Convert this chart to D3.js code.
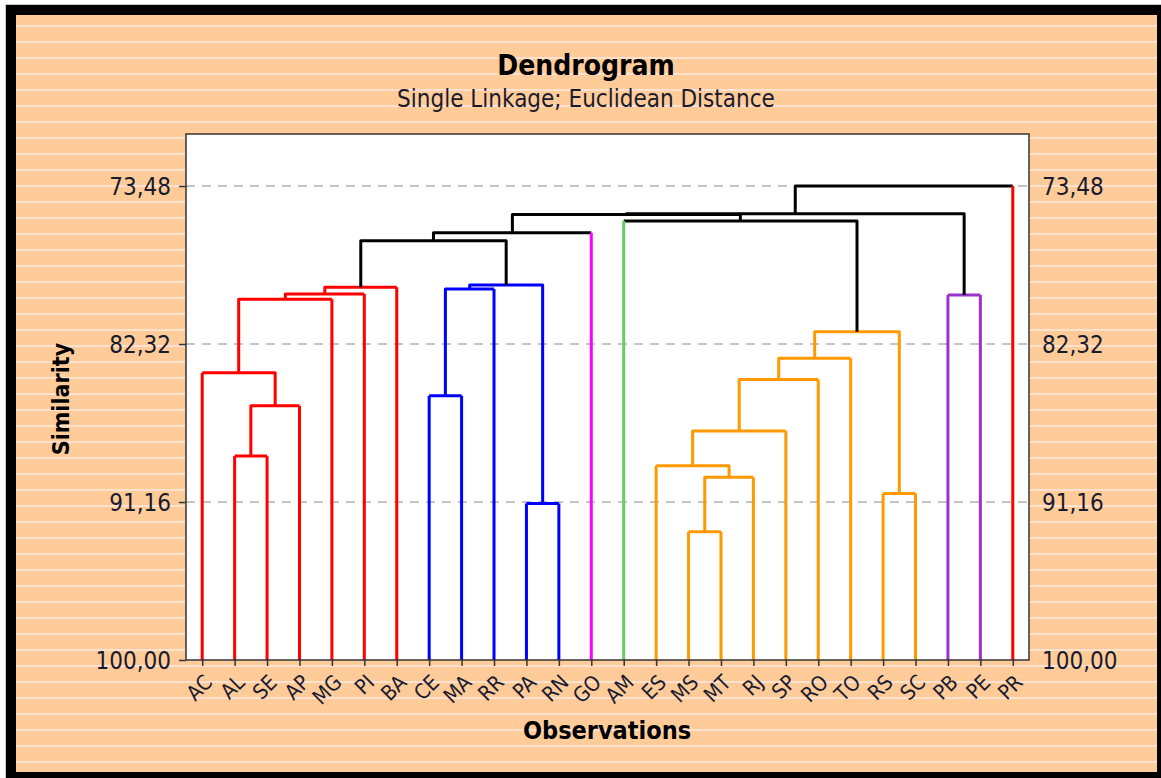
<!DOCTYPE html>
<html><head><meta charset="utf-8">
<script src="https://cdn.jsdelivr.net/npm/d3@7"></script>
<style>
html,body{margin:0;padding:0;background:#fff;}
svg{display:block;}
text{font-family:"DejaVu Sans Condensed","DejaVu Sans",sans-serif;font-stretch:condensed;}
</style></head>
<body>
<svg id="chart" width="1161" height="778"></svg>
<script>
// ---- data ----
const labels = ["AC","AL","SE","AP","MG","PI","BA","CE","MA","RR","PA","RN","GO","AM","ES","MS","MT","RJ","SP","RO","TO","RS","SC","PB","PE","PR"];
const clusterOf = [0,0,0,0,0,0,0,1,1,1,1,1,2,3,4,4,4,4,4,4,4,4,4,5,5,6];
const clusterColors = ["#ff0000","#0000ff","#ff00ff","#66cc66","#ff9900","#9933cc","#ff0000"];
// linkage: indices < 26 are leaves, >= 26 are earlier merges
const mergeA = [15,10,21,26,14,1,30,31,7,32,0,35,37,36,23,39,34,41,42,43,45,13,46,48,49];
const mergeB = [16,11,22,17,29,2,18,3,8,19,33,20,28,4,24,5,9,6,27,44,12,38,47,40,25];
const mergeSim = [92.82,91.24,90.68,89.78,89.13,88.59,87.19,85.77,85.21,84.30,83.93,83.12,81.63,79.82,79.58,79.52,79.24,79.15,79.02,76.54,76.09,75.44,75.08,75.03,73.48];
const yTicks = [73.48,82.32,91.16,100];
const yTickLabels = ["73,48","82,32","91,16","100,00"];

// ---- layout ----
const W = 1161, H = 778;
const plot = {l:186, t:134, r:1029, b:660};
const svg = d3.select("#chart");

// outer frame
svg.append("rect").attr("x",5.5).attr("y",4.5).attr("width",W).attr("height",H).attr("fill","none").attr("stroke","#c8c8c8").attr("stroke-width",1);
svg.append("rect").attr("x",6).attr("y",5).attr("width",W).attr("height",H).attr("fill","#000");
svg.append("rect").attr("x",16).attr("y",15).attr("width",1141).attr("height",757).attr("fill","#ffcc99");
// stripes
const stripeG = svg.append("g");
for (let y = 26; y < 772; y += 16) {
  stripeG.append("rect").attr("x",16).attr("y",y-0.8).attr("width",1141).attr("height",1.6).attr("fill","#ffe6dc");
}

// scales
const x = d3.scalePoint().domain(labels).range([plot.l, plot.r]).padding(0.5);
const y = d3.scaleLinear().domain([70.57, 100]).range([plot.t, plot.b]);

// plot background
svg.append("rect").attr("x",plot.l).attr("y",plot.t).attr("width",plot.r-plot.l).attr("height",plot.b-plot.t)
  .attr("fill","#fff");

// grid
svg.append("g").selectAll("line").data(yTicks.filter(d=>d<100)).join("line")
  .attr("x1",plot.l).attr("x2",plot.r).attr("y1",d=>y(d)).attr("y2",d=>y(d))
  .attr("stroke","#c4c4c4").attr("stroke-width",2).attr("stroke-dasharray","9,7");

// build tree
const n = labels.length;
const nodes = labels.map((lab,i)=>({x:x(lab), h:100, cluster:clusterOf[i], leaf:true}));
mergeA.forEach((a,k)=>{
  const b = mergeB[k];
  const A = nodes[a], B = nodes[b];
  const cl = (A.cluster !== null && A.cluster === B.cluster) ? A.cluster : null;
  const node = {x:(A.x+B.x)/2, h:mergeSim[k], cluster:cl, leaf:false, a, b};
  A.parent = node; B.parent = node;
  nodes.push(node);
});
const colorOf = c => c === null ? "#000" : clusterColors[c];

const tree = svg.append("g").attr("fill","none").attr("stroke-width",3).attr("stroke-linejoin","round");
// merges
nodes.slice(n).forEach(m=>{
  const A = nodes[m.a], B = nodes[m.b];
  const [L,R] = A.x < B.x ? [A,B] : [B,A];
  const ym = y(m.h);
  let p = "";
  p += L.leaf ? `M${L.x},${ym}` : `M${L.x},${y(L.h)}V${ym}`;
  p += `H${R.x}`;
  if (!R.leaf) p += `V${y(R.h)}`;
  tree.append("path").attr("d",p).attr("stroke",colorOf(m.cluster));
});
// leaves
tree.selectAll("line.leaf").data(nodes.slice(0,n)).join("line").attr("class","leaf")
  .attr("x1",d=>d.x).attr("x2",d=>d.x).attr("y1",y(100)).attr("y2",d=>y(d.parent.h))
  .attr("stroke",d=>clusterColors[d.cluster]);

// plot border
svg.append("rect").attr("x",plot.l).attr("y",plot.t).attr("width",plot.r-plot.l).attr("height",plot.b-plot.t)
  .attr("fill","none").attr("stroke","#333").attr("stroke-width",1.5);

// y axis left
const yAxisL = d3.axisLeft(y).tickValues(yTicks).tickFormat((d,i)=>yTickLabels[i]).tickSize(7).tickPadding(8);
const gL = svg.append("g").attr("transform",`translate(${plot.l},0)`).call(yAxisL);
gL.select(".domain").remove();
gL.selectAll(".tick line").attr("stroke","#333").attr("stroke-width",1.5);
gL.selectAll(".tick text").attr("font-size",24).attr("fill","#1a1a2e").attr("dy","0.36em");
// y axis right (labels only)
const yAxisR = d3.axisRight(y).tickValues(yTicks).tickFormat((d,i)=>yTickLabels[i]).tickSize(0).tickPadding(13);
const gR = svg.append("g").attr("transform",`translate(${plot.r},0)`).call(yAxisR);
gR.select(".domain").remove();
gR.selectAll(".tick text").attr("font-size",24).attr("fill","#1a1a2e").attr("dy","0.36em");

// x axis
const xAxis = d3.axisBottom(x).tickSize(6).tickFormat(d=>d);
const gX = svg.append("g").attr("transform",`translate(0,${plot.b})`).call(xAxis);
gX.select(".domain").remove();
gX.selectAll(".tick line").attr("stroke","#333").attr("stroke-width",1.5);
gX.selectAll(".tick text").attr("font-size",21).attr("fill","#1a1a2e")
  .attr("text-anchor","end").attr("dominant-baseline","hanging")
  .attr("x",0).attr("y",0).attr("dy",null)
  .attr("transform","translate(0,13) rotate(-45)");

// titles
svg.append("text").attr("x",586).attr("y",75).attr("text-anchor","middle").attr("font-size",28).attr("font-weight","bold").attr("fill","#000").text("Dendrogram");
svg.append("text").attr("x",586).attr("y",107).attr("text-anchor","middle").attr("font-size",24).attr("fill","#1a1a2e").text("Single Linkage; Euclidean Distance");
svg.append("text").attr("x",607).attr("y",739).attr("text-anchor","middle").attr("font-size",25).attr("font-weight","bold").attr("fill","#000").text("Observations");
svg.append("text").attr("transform","translate(69,399) rotate(-90)").attr("text-anchor","middle").attr("font-size",23).attr("font-weight","bold").attr("fill","#000").text("Similarity");
</script>
</body></html>
